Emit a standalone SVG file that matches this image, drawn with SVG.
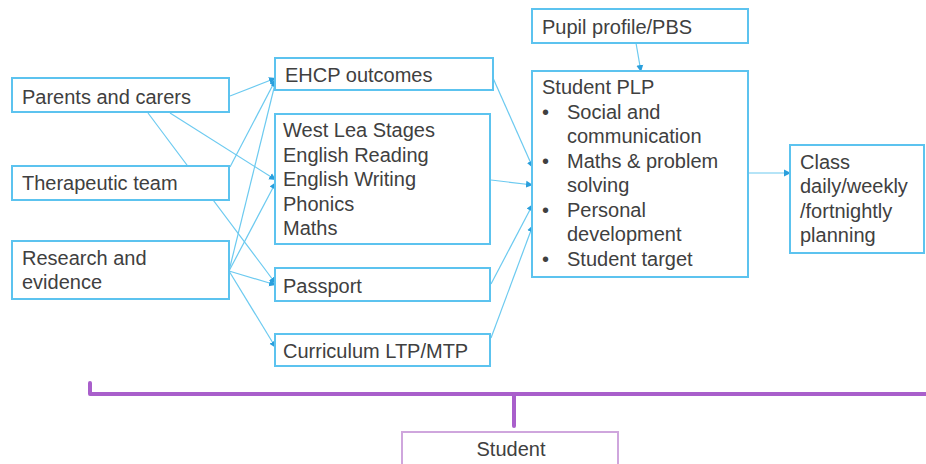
<svg xmlns="http://www.w3.org/2000/svg" width="926" height="464" viewBox="0 0 926 464">
<defs>
<style>
.box{fill:#fff;stroke:#5cc3ef;stroke-width:2}
.t{font-family:"Liberation Sans",Arial,sans-serif;font-size:20px;fill:#404040}
.c{fill:none;stroke:#6ccaf0;stroke-width:1.2}
.p{fill:none;stroke:#a95fcb;stroke-width:4;stroke-linejoin:round;stroke-linecap:round}
</style>
<marker id="ah" markerUnits="userSpaceOnUse" markerWidth="8" markerHeight="8" refX="7" refY="4" orient="auto">
<path d="M0,0.5 L7,4 L0,7.5 z" fill="#2a9fdc"/>
</marker>
</defs>
<rect width="926" height="464" fill="#fff"/>

<g id="connectors">
<path class="c" marker-end="url(#ah)" d="M230,96 L276,78"/>
<path class="c" marker-end="url(#ah)" d="M170,113 L276,180"/>
<path class="c" marker-end="url(#ah)" d="M148,113 L276,284"/>
<path class="c" marker-end="url(#ah)" d="M230,167 L276,79"/>
<path class="c" marker-end="url(#ah)" d="M229,271 L276,80"/>
<path class="c" marker-end="url(#ah)" d="M229,271 L276,182"/>
<path class="c" marker-end="url(#ah)" d="M229,271 L276,285"/>
<path class="c" marker-end="url(#ah)" d="M229,271 L276,348"/>
<path class="c" marker-end="url(#ah)" d="M493,78 L533,168"/>
<path class="c" marker-end="url(#ah)" d="M491,180 L533,185"/>
<path class="c" marker-end="url(#ah)" d="M491,284 L533,204"/>
<path class="c" marker-end="url(#ah)" d="M491,338 L533,225"/>
<path class="c" marker-end="url(#ah)" d="M636,43 L641,72"/>
<path class="c" marker-end="url(#ah)" d="M749,173 L791,173"/>
<path class="p" d="M90,383 L90,394 L928,394"/>
<path class="p" d="M514,394 L514,426"/>
</g>

<g id="parents"><rect class="box" x="12" y="78" width="217" height="34"/><text class="t" x="22" y="104">Parents and carers</text></g>
<g id="therapeutic"><rect class="box" x="12" y="166" width="217" height="34"/><text class="t" x="22" y="190">Therapeutic team</text></g>
<g id="research"><rect class="box" x="12" y="241" width="217" height="58"/><text class="t" x="22" y="265">Research and</text><text class="t" x="22" y="289">evidence</text></g>

<g id="ehcp"><rect class="box" x="275" y="58" width="218" height="32"/><text class="t" x="285" y="82">EHCP outcomes</text></g>
<g id="westlea"><rect class="box" x="275" y="114" width="215" height="130"/>
<text class="t" x="283" y="137">West Lea Stages</text>
<text class="t" x="283" y="161.5">English Reading</text>
<text class="t" x="283" y="186">English Writing</text>
<text class="t" x="283" y="210.5">Phonics</text>
<text class="t" x="283" y="235">Maths</text></g>
<g id="passport"><rect class="box" x="275" y="268" width="215" height="33"/><text class="t" x="283" y="293">Passport</text></g>
<g id="curriculum"><rect class="box" x="275" y="334" width="215" height="32"/><text class="t" x="283" y="358">Curriculum LTP/MTP</text></g>

<g id="pupil"><rect class="box" x="532" y="9" width="216" height="34"/><text class="t" x="542" y="34">Pupil profile/PBS</text></g>
<g id="plp"><rect class="box" x="532" y="71" width="216" height="206"/>
<text class="t" x="542" y="94">Student PLP</text>
<text class="t" x="542" y="119">•</text><text class="t" x="567" y="119">Social and</text>
<text class="t" x="567" y="143">communication</text>
<text class="t" x="542" y="168">•</text><text class="t" x="567" y="168">Maths &amp; problem</text>
<text class="t" x="567" y="192">solving</text>
<text class="t" x="542" y="217">•</text><text class="t" x="567" y="217">Personal</text>
<text class="t" x="567" y="241">development</text>
<text class="t" x="542" y="266">•</text><text class="t" x="567" y="266">Student target</text></g>

<g id="class"><rect class="box" x="790" y="145" width="134" height="108"/>
<text class="t" x="800" y="169">Class</text>
<text class="t" x="800" y="193">daily/weekly</text>
<text class="t" x="800" y="218">/fortnightly</text>
<text class="t" x="800" y="242">planning</text></g>

<g id="student"><rect x="402" y="432" width="216" height="40" fill="#fff" stroke="#cfa6dd" stroke-width="2"/><text class="t" x="511" y="456" text-anchor="middle">Student</text></g>
</svg>
